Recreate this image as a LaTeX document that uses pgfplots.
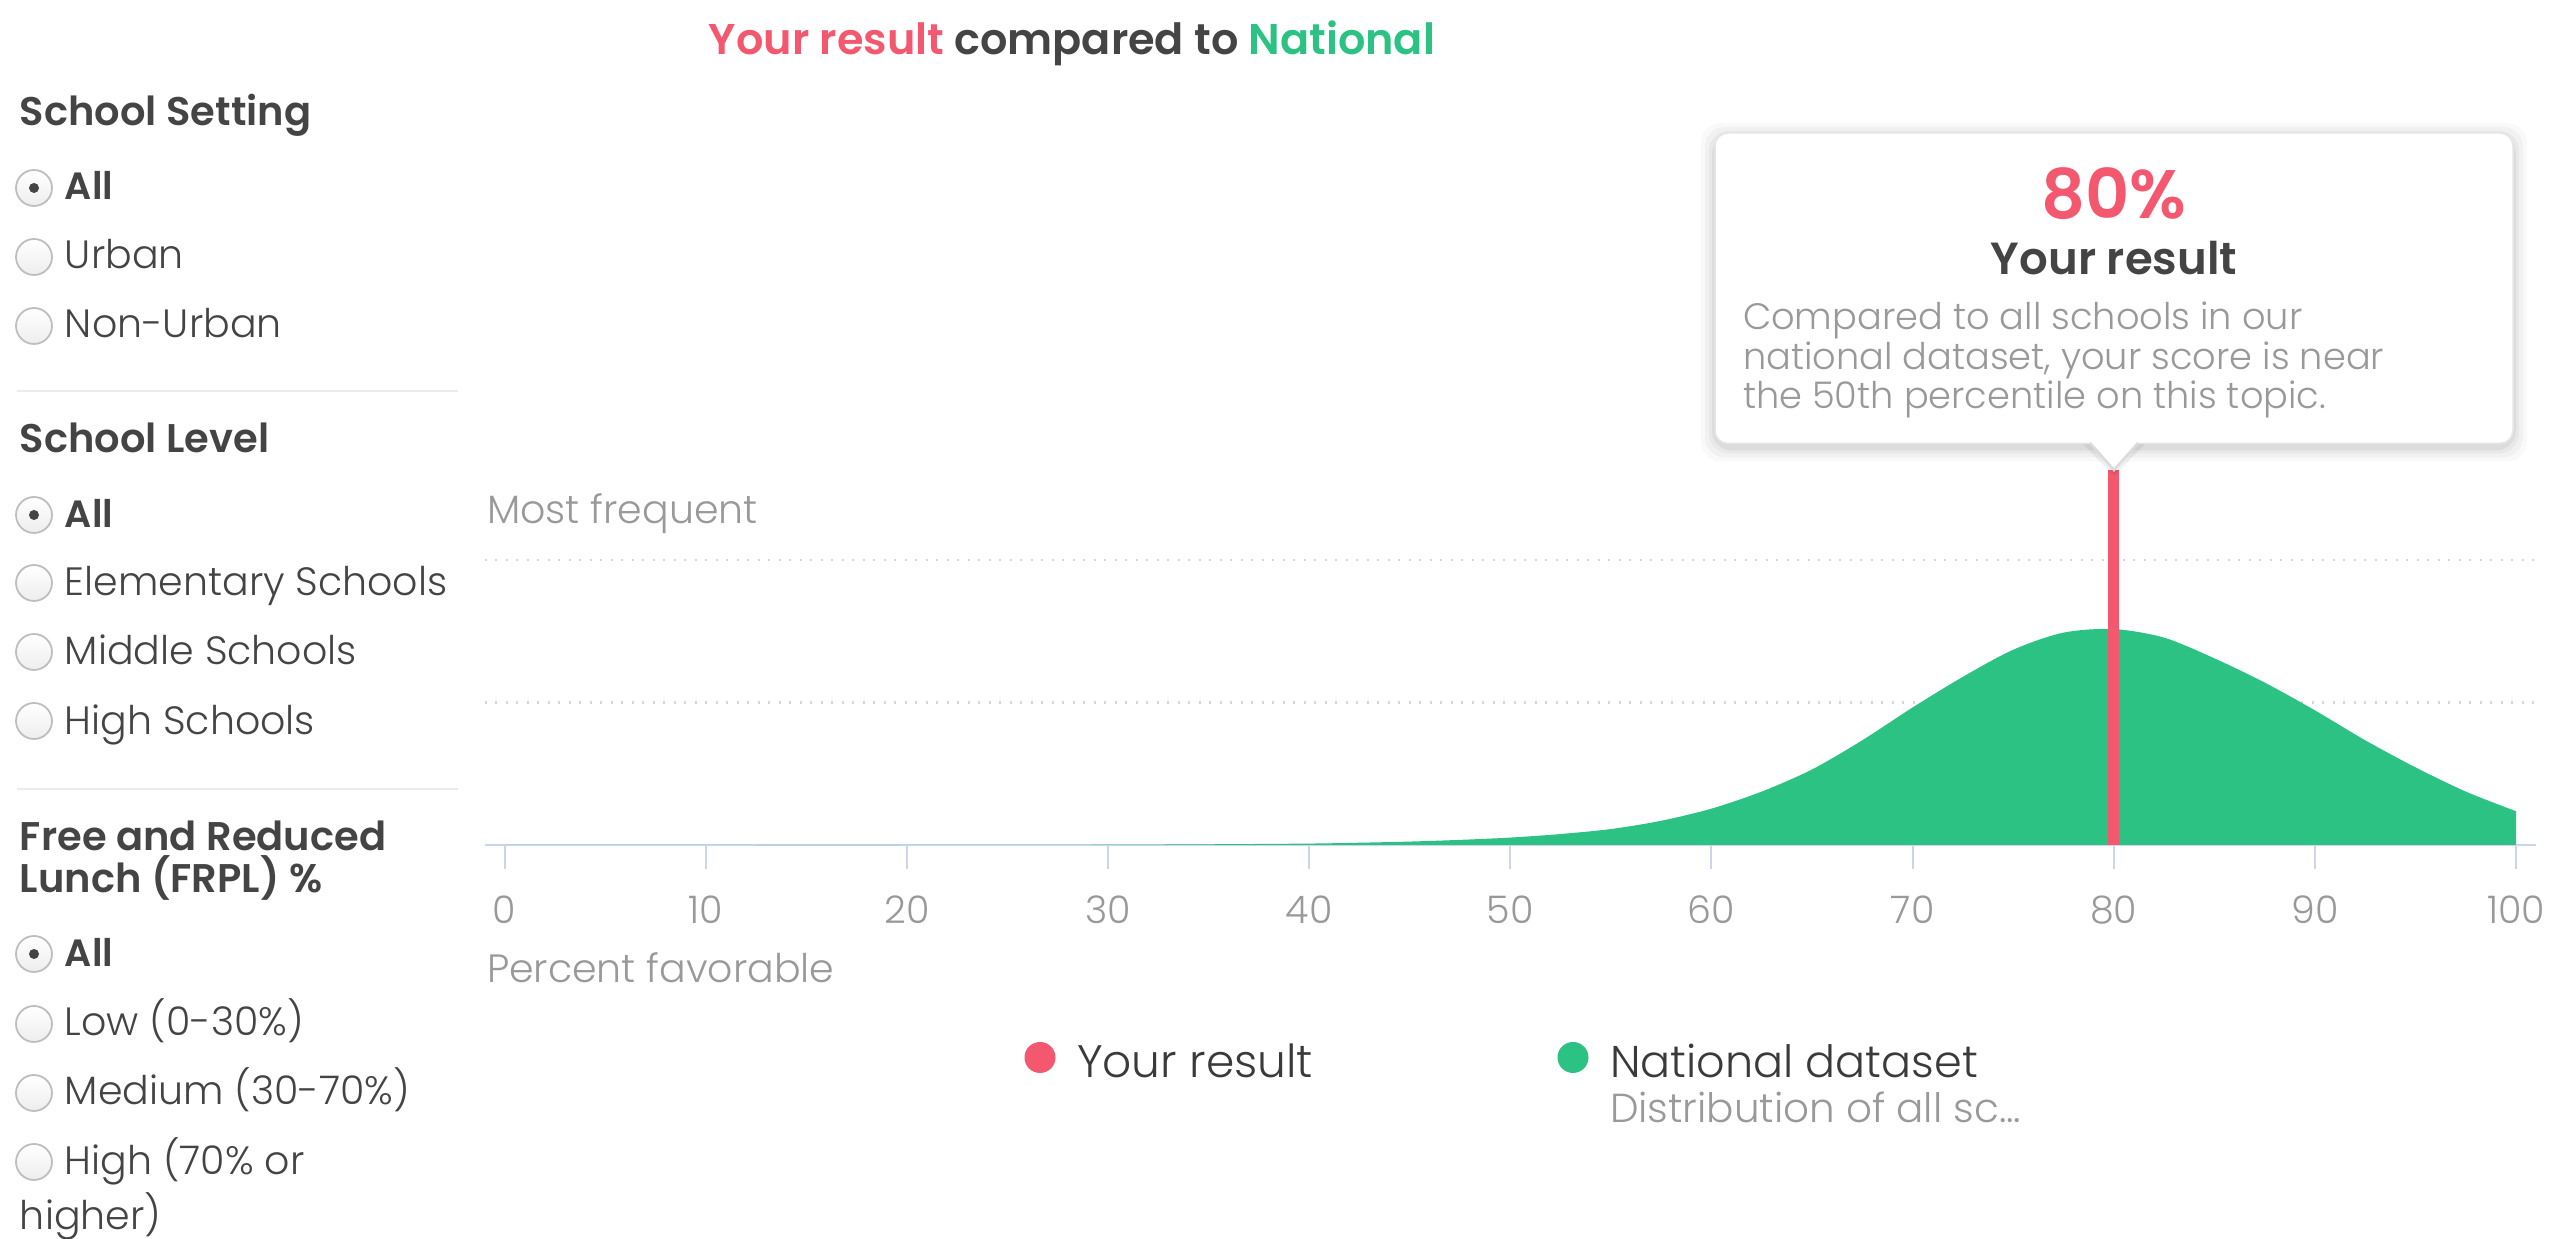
\documentclass[border=0pt]{standalone}
\usepackage{fontspec}
\setmainfont{Poppins}
\IfFontExistsTF{Poppins Light}{\newfontfamily\lite{Poppins Light}}{\newfontfamily\lite{Poppins}}
\IfFontExistsTF{Poppins SemiBold}{\newfontfamily\semib{Poppins SemiBold}}{\newcommand\semib{\bfseries}}
\usepackage{pgfplots}
\pgfplotsset{compat=1.18}

\definecolor{resred}{HTML}{F3586F}
\definecolor{natgreen}{HTML}{2CC283}
\definecolor{darktxt}{HTML}{444444}
\definecolor{greytxt}{HTML}{999999}
\definecolor{axisc}{HTML}{CCD6EB}
\definecolor{gridc}{HTML}{D6D6D6}
\definecolor{sepc}{HTML}{EBEBEB}
\definecolor{radioc}{HTML}{BDBDBD}

\newcommand\fs[1]{\fontsize{#1}{#1}\selectfont}

% national dataset distribution
\pgfplotstableread{
x y
0 0
10 0
20 0
25 0.001
30 0.002
35 0.005
40 0.010
42.5 0.016
45 0.024
47.5 0.036
50 0.052
52.5 0.077
55 0.112
57.5 0.170
60 0.255
62.5 0.375
65 0.53
67.5 0.735
70 0.965
72.5 1.18
75 1.37
77.5 1.49
80 1.515
82.5 1.455
85 1.31
87.5 1.14
90 0.945
92.5 0.735
95 0.545
97.5 0.375
100 0.237
}\national

\begin{document}
\begin{tikzpicture}
\path[use as bounding box] (0,0) rectangle (510.4pt,-247.8pt);

\begin{axis}[
  at={(96.9pt,-169pt)}, anchor=south west,
  scale only axis, width=410.32pt, height=74.96pt,
  xmin=-1, xmax=101, ymin=0, ymax=2.63,
  axis x line*=bottom, axis y line*=left,
  x axis line style={axisc, line width=0.55pt},
  y axis line style={draw=none},
  xtick={0,10,...,100},
  ytick={1,2}, yticklabels={},
  ytick style={draw=none},
  tick align=outside, major tick length=4.8pt,
  xtick style={axisc, line width=0.4pt},
  ymajorgrids,
  grid style={gridc, line width=0.45pt, dash pattern=on 0.45pt off 1.65pt},
  /pgf/number format/assume math mode=true,
  xticklabel style={font=\lite\fs{7.6}, text=greytxt, anchor=base, yshift=-10.9pt},
  clip=false,
]
\addplot[draw=none, fill=natgreen, smooth] table {\national} \closedcycle;
\addplot[resred, line width=2.28pt] coordinates {(80,0) (80,2.63)};
\end{axis}

\begin{scope}[x=0.2pt, y=-0.2pt]
% title
\node[anchor=base, inner sep=0, font=\semib\fs{8.6}] at (1072,55)
  {\textcolor{resred}{Your result} \textcolor{darktxt}{compared to} \textcolor{natgreen}{National}};

% left filter panel
\tikzset{hdr/.style={anchor=base west, inner sep=0, text=darktxt, font=\semib\fs{8.0}},
         opt/.style={anchor=base west, inner sep=0, text=darktxt, font=\lite\fs{7.9}},
         sel/.style={anchor=base west, inner sep=0, text=darktxt, font=\semib\fs{7.6}}}
\newcommand\radio[1]{\draw[radioc, line width=0.35pt, top color=white, bottom color=black!7] (34,#1) circle (3.6pt);}
\newcommand\radiosel[1]{\radio{#1}\fill[darktxt] (34,#1) circle (1pt);}

\node[hdr] at (19,126) {School Setting};
\radiosel{188} \node[sel] at (64,200) {All};
\radio{257}    \node[opt] at (64,269) {Urban};
\radio{326}    \node[opt] at (64,338) {Non-Urban};
\draw[sepc, line width=0.5pt] (17,391) -- (458,391);

\node[hdr] at (19,453) {School Level};
\radiosel{515} \node[sel] at (64,528) {All};
\radio{583}    \node[opt] at (64,596) {Elementary Schools};
\radio{652}    \node[opt] at (64,665) {Middle Schools};
\radio{721}    \node[opt] at (64,735) {High Schools};
\draw[sepc, line width=0.5pt] (17,789) -- (458,789);

\node[hdr] at (19,851) {Free and Reduced};
\node[hdr] at (19,893) {Lunch (FRPL) \%};
\radiosel{954} \node[sel] at (64,967) {All};
\radio{1024}   \node[opt] at (64,1036) {Low (0-30\%)};
\radio{1093}   \node[opt] at (64,1105) {Medium (30-70\%)};
\radio{1162}   \node[opt] at (64,1175) {High (70\% or};
\node[opt] at (19,1230) {higher)};

% axis texts
\node[anchor=base west, inner sep=0, text=greytxt, font=\lite\fs{7.9}] at (486,524) {Most frequent};
\node[anchor=base west, inner sep=0, text=greytxt, font=\lite\fs{7.9}] at (486,983) {Percent favorable};

% legend
\fill[resred] (1040,1057.5) circle (3.1pt);
\node[anchor=base west, inner sep=0, text=darktxt!85!black, font=\lite\fs{9.1}] at (1076,1078) {Your result};
\fill[natgreen] (1573,1057.5) circle (3.1pt);
\node[anchor=base west, inner sep=0, text=darktxt!85!black, font=\lite\fs{8.9}] at (1609,1078) {National dataset};
\node[anchor=base west, inner sep=0, text=greytxt, font=\lite\fs{8.1}] at (1609,1123) {Distribution of all sc...};

% tooltip
\foreach \d/\o in {14/0.025,10/0.03,6/0.04,3/0.05}{
  \fill[black, opacity=\o, rounded corners=4pt] (1715-\d,133-\d+4) rectangle (2513+\d,443.5+\d+4);
}
\fill[black, opacity=0.06] (2082,443) -- (2114,476) -- (2146,443) -- cycle;
\draw[black!10, fill=white, line width=0.3pt, rounded corners=2.6pt] (1715,133) rectangle (2513,443.5);
\draw[black!14, fill=white, line width=0.5pt] (2090,443) -- (2114,470) -- (2138,443);
\fill[white] (2091.5,442) -- (2114,467) -- (2136.5,442) -- cycle;
\node[anchor=base, inner sep=0, text=resred, font=\semib\fs{13.7}] at (2114,219) {80\%};
\node[anchor=base, inner sep=0, text=darktxt, font=\semib\fs{9.0}] at (2114,275) {Your result};
\node[anchor=base west, inner sep=0, text=greytxt, font=\lite\fs{7.35}] at (1742,329.6) {Compared to all schools in our};
\node[anchor=base west, inner sep=0, text=greytxt, font=\lite\fs{7.35}] at (1742,369.2) {national dataset, your score is near};
\node[anchor=base west, inner sep=0, text=greytxt, font=\lite\fs{7.35}] at (1742,408.8) {the 50th percentile on this topic.};
\end{scope}
\end{tikzpicture}
\end{document}
